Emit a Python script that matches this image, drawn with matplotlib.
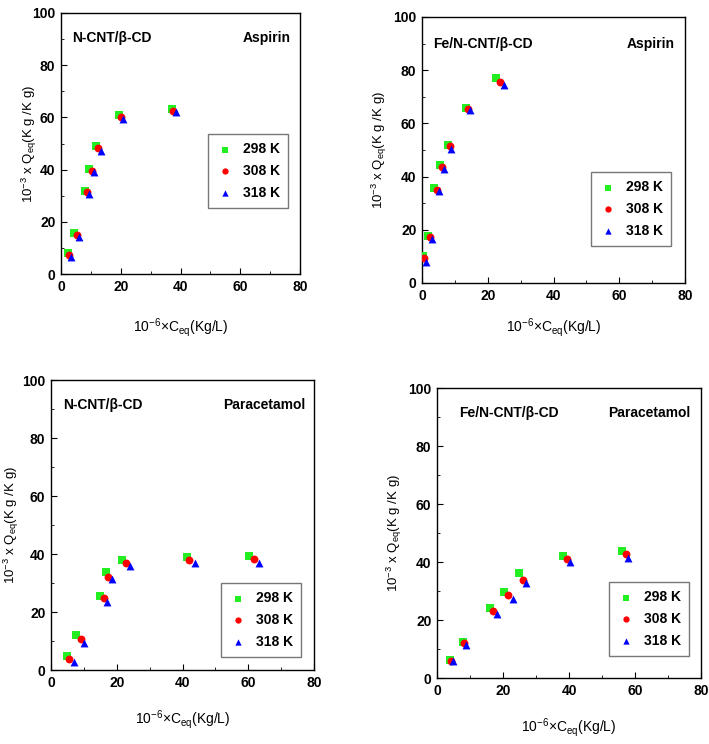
import matplotlib
matplotlib.use("Agg")
import matplotlib.pyplot as plt
from matplotlib.ticker import MultipleLocator

plt.rcParams['font.family'] = ['Liberation Sans', 'DejaVu Sans']
plt.rcParams['mathtext.fontset'] = 'custom'
plt.rcParams['mathtext.rm'] = 'Liberation Sans'
plt.rcParams['mathtext.it'] = 'Liberation Sans'
plt.rcParams['mathtext.bf'] = 'Liberation Sans:bold'

temps = ['298 K', '308 K', '318 K']
colors = ['#22ee22', '#ff0000', '#0000ff']
markers = ['s', 'o', '^']

# N-CNT/b-CD, aspirin
ncnt_asp_x = [[2.5, 4.4, 8.0, 9.5, 11.7, 19.3, 37.0],
              [2.8, 5.5, 8.8, 10.5, 12.3, 20.1, 37.6],
              [3.5, 6.1, 9.3, 11.2, 13.3, 20.9, 38.4]]
ncnt_asp_y = [[7.9, 15.8, 31.9, 40.4, 49.0, 61.1, 63.4],
              [7.3, 14.9, 31.3, 39.5, 48.1, 60.2, 62.5],
              [6.6, 14.0, 30.6, 39.2, 47.2, 59.4, 61.9]]

# Fe/N-CNT/b-CD, aspirin
fe_asp_x = [[0.2, 1.7, 3.7, 5.5, 7.8, 13.4, 22.5],
            [0.6, 2.5, 4.5, 6.1, 8.4, 14.1, 23.8],
            [1.2, 3.0, 5.2, 6.6, 8.8, 14.7, 24.8]]
fe_asp_y = [[10.2, 17.8, 35.9, 44.3, 51.9, 65.9, 77.0],
            [9.5, 17.3, 35.1, 43.5, 51.4, 65.5, 75.7],
            [8.0, 16.5, 34.5, 42.7, 50.5, 64.9, 74.6]]

# N-CNT/b-CD, paracetamol
ncnt_par_x = [[4.8, 7.7, 14.9, 16.6, 21.6, 41.5, 60.3],
              [5.6, 9.2, 16.2, 17.3, 22.9, 42.1, 61.9],
              [7.1, 10.1, 17.0, 18.7, 24.1, 43.8, 63.2]]
ncnt_par_y = [[4.9, 12.0, 25.5, 33.7, 37.9, 39.0, 39.4],
              [3.8, 10.8, 24.7, 32.2, 37.0, 37.9, 38.2],
              [2.6, 9.4, 23.3, 31.3, 35.9, 36.8, 37.0]]

# Fe/N-CNT/b-CD, paracetamol
fe_par_x = [[3.9, 7.8, 16.0, 20.4, 24.8, 38.3, 56.1],
            [4.3, 8.1, 17.0, 21.4, 26.0, 39.3, 57.3],
            [4.9, 8.8, 18.2, 22.9, 27.1, 40.3, 57.9]]
fe_par_y = [[6.1, 12.4, 24.2, 29.6, 36.1, 42.1, 43.8],
            [5.9, 11.9, 23.0, 28.6, 33.8, 40.9, 42.7],
            [5.8, 11.5, 21.9, 27.2, 32.8, 40.0, 41.5]]

W, H = 709, 744
fig = plt.figure(figsize=(W / 100, H / 100), dpi=100)

def px_axes(l, t, r, b):
    return fig.add_axes([l / W, 1 - b / H, (r - l) / W, (b - t) / H])

panels = [
    # box px, x data, y data, sample, drug, left text x, right text x, text y,
    # legend (right, bottom), xlabel y px, ylabel offset px (right edge of rotated text)
    ((61, 13, 300, 274), ncnt_asp_x, ncnt_asp_y, 'N-CNT/β-CD', 'Aspirin',
     0.046, 0.96, 0.905, (0.95, 0.253), 328, 22),
    ((422, 17, 685, 283), fe_asp_x, fe_asp_y, 'Fe/N-CNT/β-CD', 'Aspirin',
     0.042, 0.962, 0.9, (0.947, 0.139), 328, 33),
    ((51, 380, 314, 670), ncnt_par_x, ncnt_par_y, 'N-CNT/β-CD', 'Paracetamol',
     0.046, 0.966, 0.914, (0.951, 0.045), 720, 30),
    ((437, 388, 701, 678), fe_par_x, fe_par_y, 'Fe/N-CNT/β-CD', 'Paracetamol',
     0.083, 0.958, 0.914, (0.955, 0.076), 728, 33),
]

for box, xs, ys, sample, drug, lx, rx, ty, leg_pos, xlab_y, ylab_off in panels:
    ax = px_axes(*box)
    for i in range(3):
        ax.scatter(xs[i], ys[i], marker=markers[i], color=colors[i], s=32,
                   linewidths=0, label=temps[i], zorder=3)
    ax.set_xlim(0, 80)
    ax.set_ylim(0, 100)
    ax.xaxis.set_major_locator(MultipleLocator(20))
    ax.xaxis.set_minor_locator(MultipleLocator(10))
    ax.yaxis.set_major_locator(MultipleLocator(20))
    ax.yaxis.set_minor_locator(MultipleLocator(10))
    ax.tick_params(which='both', direction='in', labelsize=10, pad=4)
    ax.tick_params(which='major', length=4)
    ax.tick_params(which='minor', length=2)
    for lab in ax.get_xticklabels() + ax.get_yticklabels():
        lab.set_fontweight('bold')
    for sp in ax.spines.values():
        sp.set_linewidth(1.0)

    ax.text(lx, ty, sample, transform=ax.transAxes, fontsize=10,
            fontweight='bold', ha='left', va='center')
    ax.text(rx, ty, drug, transform=ax.transAxes, fontsize=10,
            fontweight='bold', ha='right', va='center')

    ax.set_ylabel(r'10$^{-3}$ x Q$_{eq}$(K g /K g)', fontsize=9.5)
    ax.yaxis.set_label_coords(-ylab_off / (box[2] - box[0]), 0.5)

    # x label placed by pixel position
    x_mid = (box[0] + box[2]) / 2 / W
    fig.text(x_mid, 1 - xlab_y / H, r'10$^{-6}$×C$_{eq}$(Kg/L)', fontsize=10,
             ha='center', va='center')

    leg = ax.legend(loc='lower right', bbox_to_anchor=leg_pos, frameon=True,
                    fancybox=False, edgecolor='#555555', fontsize=10,
                    handletextpad=0.6, borderpad=0.6, labelspacing=0.55,
                    handlelength=1.3, borderaxespad=0, markerscale=0.8)
    leg.get_frame().set_linewidth(1.0)
    for t in leg.get_texts():
        t.set_fontweight('bold')

fig.savefig('out.png', dpi=100)
